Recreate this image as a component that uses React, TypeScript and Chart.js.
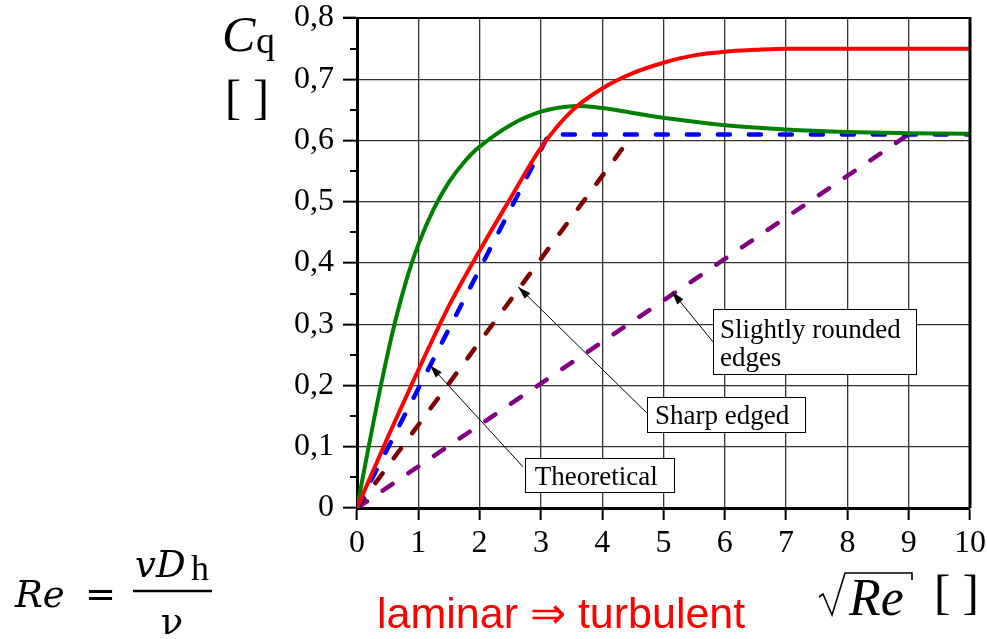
import { useEffect, useRef } from 'react';
import { Chart, registerables } from 'chart.js';

Chart.register(...registerables);

// ---- data ----
const redX = [0, 0.5, 1, 1.5, 2, 2.5, 3, 3.5, 4, 4.5, 5, 5.5, 6, 6.5, 7, 8, 9, 10];
const redY = [0, 0.115, 0.225, 0.33, 0.42, 0.505, 0.588, 0.648, 0.685, 0.71, 0.727, 0.739, 0.745, 0.748, 0.75, 0.75, 0.75, 0.75];

const greenX = [0, 0.2, 0.4, 0.6, 0.8, 1, 1.25, 1.5, 1.75, 2, 2.5, 3, 3.5, 4, 4.5, 5, 6, 7, 8, 9, 10];
const greenY = [0, 0.105, 0.205, 0.295, 0.37, 0.43, 0.488, 0.532, 0.565, 0.59, 0.625, 0.647, 0.656, 0.653, 0.645, 0.637, 0.625, 0.618, 0.614, 0.612, 0.611];

const theoreticalX = [0, 3.13, 10];
const theoreticalY = [0, 0.61, 0.61];

const sharpX = [0, 4.5];
const sharpY = [0, 0.61];

const roundedX = [0, 9.0];
const roundedY = [0, 0.61];

const yMin = 0;
const yMax = 0.8;
const yStep = 0.1;
const xMin = 0;
const xMax = 10;
const xStep = 1;

const labelTheoretical = ['Theoretical'];
const labelSharp = ['Sharp edged'];
const labelRounded = ['Slightly rounded', 'edges'];

const serif = "'Liberation Serif', 'Times New Roman', serif";

function pts(xs: number[], ys: number[]) {
  return xs.map((x, i) => ({ x, y: ys[i] }));
}

export default function App() {
  const ref = useRef<HTMLCanvasElement | null>(null);

  useEffect(() => {
    const canvas = ref.current;
    if (!canvas) return;

    const extras = {
      id: 'extras',
      afterDraw(chart: any) {
        const ctx = chart.ctx as CanvasRenderingContext2D;
        const xs = chart.scales.x;
        const ys = chart.scales.y;
        const area = chart.chartArea;
        const px = (v: number) => xs.getPixelForValue(v);
        const py = (v: number) => ys.getPixelForValue(v);
        ctx.save();

        // minor ticks on y axis
        ctx.strokeStyle = '#000';
        ctx.lineWidth = 2;
        for (let v = 0.05; v < yMax; v += 0.1) {
          const y = Math.round(py(v));
          ctx.beginPath();
          ctx.moveTo(area.left - 7, y);
          ctx.lineTo(area.left, y);
          ctx.stroke();
        }
        // top border
        ctx.lineWidth = 2;
        ctx.beginPath();
        ctx.moveTo(area.left - 14, area.top);
        ctx.lineTo(area.right, area.top);
        ctx.stroke();
        // right border
        ctx.lineWidth = 3;
        ctx.beginPath();
        ctx.moveTo(area.right, area.top - 1);
        ctx.lineTo(area.right, area.bottom);
        ctx.stroke();

        const arrow = (x1: number, y1: number, x2: number, y2: number) => {
          const a1 = px(x1), b1 = py(y1), a2 = px(x2), b2 = py(y2);
          ctx.strokeStyle = '#000';
          ctx.lineWidth = 1;
          ctx.beginPath();
          ctx.moveTo(a1, b1);
          ctx.lineTo(a2, b2);
          ctx.stroke();
          const ang = Math.atan2(b2 - b1, a2 - a1);
          const L = 13, W = 4;
          ctx.fillStyle = '#000';
          ctx.beginPath();
          ctx.moveTo(a2, b2);
          ctx.lineTo(a2 - L * Math.cos(ang) + W * Math.sin(ang), b2 - L * Math.sin(ang) - W * Math.cos(ang));
          ctx.lineTo(a2 - L * Math.cos(ang) - W * Math.sin(ang), b2 - L * Math.sin(ang) + W * Math.cos(ang));
          ctx.closePath();
          ctx.fill();
        };
        const box = (x0: number, y0: number, x1: number, y1: number, lines: string[], tx: number, baselines: number[]) => {
          const l = px(x0), t = py(y0), r = px(x1), b = py(y1);
          ctx.fillStyle = '#fff';
          ctx.fillRect(l, t, r - l, b - t);
          ctx.strokeStyle = '#000';
          ctx.lineWidth = 1;
          ctx.strokeRect(Math.round(l) + 0.5, Math.round(t) + 0.5, Math.round(r - l), Math.round(b - t));
          ctx.fillStyle = '#000';
          ctx.font = `27px ${serif}`;
          ctx.textAlign = 'left';
          ctx.textBaseline = 'alphabetic';
          lines.forEach((s, i) => ctx.fillText(s, px(tx), py(baselines[i])));
        };

        arrow(2.71, 0.067, 1.19, 0.233);
        arrow(4.73, 0.155, 2.63, 0.361);
        arrow(5.81, 0.271, 5.14, 0.353);
        box(2.74, 0.0816, 5.17, 0.0261, labelTheoretical, 2.9, [0.037]);
        box(4.73, 0.181, 7.31, 0.124, labelSharp, 4.86, [0.137]);
        box(5.81, 0.325, 9.12, 0.219, labelRounded, 5.92, [0.2776, 0.232]);

        // y axis title: C_q [ ]
        ctx.fillStyle = '#000';
        ctx.textAlign = 'left';
        ctx.textBaseline = 'alphabetic';
        ctx.font = `italic 50px ${serif}`;
        ctx.fillText('C', 222, 51);
        ctx.font = `38px ${serif}`;
        ctx.fillText('q', 256, 53);
        ctx.font = `48px ${serif}`;
        ctx.fillText('[ ]', 225, 113);

        // x axis title: sqrt(Re) [ ]
        ctx.strokeStyle = '#000';
        ctx.lineWidth = 1.6;
        ctx.lineJoin = 'miter';
        ctx.beginPath();
        ctx.moveTo(819, 597);
        ctx.lineTo(823, 594);
        ctx.lineTo(832, 615);
        ctx.lineTo(845, 573);
        ctx.lineTo(912, 573);
        ctx.lineTo(912, 580);
        ctx.stroke();
        ctx.font = `italic 52px ${serif}`;
        ctx.fillText('Re', 849, 615);
        ctx.font = `49px ${serif}`;
        ctx.fillText('[ ]', 934, 608);

        // laminar => turbulent
        ctx.fillStyle = '#ff0000';
        ctx.font = "43px 'Liberation Sans', Arial, sans-serif";
        ctx.fillText('laminar \u21D2 turbulent', 377, 628);

        // Re = v D_h / nu
        ctx.fillStyle = '#000';
        const mf = "'DejaVu Serif', serif";
        ctx.font = `italic 37px ${mf}`;
        ctx.fillText('Re', 15, 607);
        ctx.font = `37px ${mf}`;
        ctx.fillText('=', 85, 607);
        ctx.font = `italic 37px ${mf}`;
        ctx.fillText('vD', 135, 577);
        ctx.font = `36px ${serif}`;
        ctx.fillText('h', 191, 580);
        ctx.lineWidth = 2.5;
        ctx.beginPath();
        ctx.moveTo(133, 591);
        ctx.lineTo(212, 591);
        ctx.stroke();
        ctx.font = `37px ${mf}`;
        ctx.textAlign = 'center';
        ctx.fillText('\u03BD', 172, 634);

        ctx.restore();
      },
    };

    const fmt = (v: any) => {
      const n = Math.round(Number(v) * 10) / 10;
      return n === 0 ? '0' : n.toFixed(1).replace('.', ',');
    };

    const dashed = (xs: number[], ys: number[], color: string) => ({
      data: pts(xs, ys),
      borderColor: color,
      borderWidth: 4.5,
      borderDash: [12, 19],
      borderCapStyle: 'round',
      tension: 0,
      pointRadius: 0,
      fill: false,
    });

    const chart = new Chart(canvas, {
      type: 'line',
      data: {
        datasets: [
          {
            data: pts(redX, redY),
            borderColor: '#ff0000',
            borderWidth: 4,
            cubicInterpolationMode: 'monotone',
            pointRadius: 0,
            fill: false,
          },
          {
            data: pts(greenX, greenY),
            borderColor: '#008000',
            borderWidth: 4,
            tension: 0.4,
            pointRadius: 0,
            fill: false,
          },
          dashed(theoreticalX, theoreticalY, '#0000ff'),
          dashed(sharpX, sharpY, '#800000'),
          dashed(roundedX, roundedY, '#800080'),
        ],
      },
      options: {
        responsive: false,
        animation: false,
        devicePixelRatio: 1,
        layout: { padding: { left: 0, right: 17, top: 18, bottom: 0 } },
        plugins: { legend: { display: false }, tooltip: { enabled: false } },
        scales: {
          x: {
            type: 'linear',
            min: xMin,
            max: xMax,
            ticks: {
              stepSize: xStep,
              color: '#000',
              font: { family: serif, size: 32 },
              padding: 4,
              maxRotation: 0,
              autoSkip: false,
            },
            grid: { color: '#333', lineWidth: 1.3, tickLength: 12, tickColor: '#000', tickWidth: 2 },
            border: { display: true, color: '#000', width: 3 },
            afterFit: (s: any) => {
              s.height = 131;
              s.paddingLeft = 0;
              s.paddingRight = 0;
            },
          },
          y: {
            type: 'linear',
            min: yMin,
            max: yMax,
            ticks: {
              stepSize: yStep,
              color: '#000',
              font: { family: serif, size: 32 },
              padding: 9,
              callback: fmt,
            },
            grid: { color: '#333', lineWidth: 1.3, tickLength: 14, tickColor: '#000', tickWidth: 2 },
            border: { display: true, color: '#000', width: 3 },
            afterFit: (s: any) => {
              s.width = 357;
              s.paddingTop = 0;
              s.paddingBottom = 0;
            },
          },
        },
      },
      plugins: [extras],
    } as any);

    return () => chart.destroy();
  }, []);

  return (
    <div style={{ position: 'absolute', left: 0, top: 0, width: 987, height: 639, background: '#fff' }}>
      <canvas ref={ref} width={987} height={639} style={{ display: 'block' }} />
    </div>
  );
}
